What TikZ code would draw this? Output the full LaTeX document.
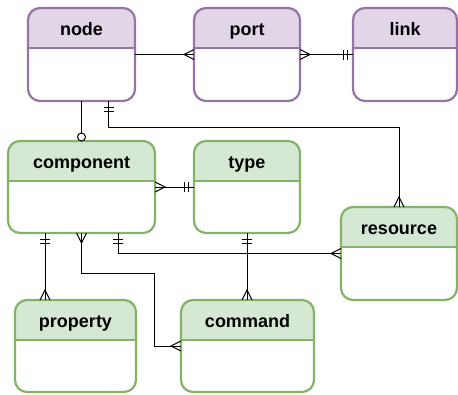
\documentclass[tikz,border=0pt]{standalone}
\usepackage{fontspec}
\setmainfont{Liberation Sans}
\usetikzlibrary{calc}

\definecolor{purpfill}{HTML}{E1D5E7}
\definecolor{purpline}{HTML}{9673A6}
\definecolor{greenfill}{HTML}{D5E8D4}
\definecolor{greenline}{HTML}{82B366}

\tikzset{
  rel/.style={line width=1pt, black},
  crow/.pic={\draw[rel] (0,-5) -- (10,0) -- (0,5);},
  bars/.pic={\draw[rel] (6,-5) -- (6,5) (10,-5) -- (10,5);},
  ring/.pic={\draw[rel, fill=white] (4,0) circle[radius=4pt];},
  title/.style={font=\bfseries\fontsize{18}{21}\selectfont, anchor=base, inner sep=0pt},
}

% entity box: name, label, x1, y1, x2, y2, header bottom, colour scheme
\newcommand\erentity[8]{%
  \begin{scope}
    \clip[rounded corners=12pt] (#3,#4) rectangle (#5,#6);
    \fill[#8fill] (#3,#4) rectangle (#5,#7);
  \end{scope}
  \draw[#8line, line width=2.2pt] (#3,#7) -- (#5,#7);
  \node[draw=#8line, line width=2.2pt, rounded corners=12pt, inner sep=0pt, outer sep=0pt,
        minimum width={(#5-#3)*1pt}, minimum height={(#6-#4)*1pt}]
        (#1) at ({(#3+#5)/2},{(#4+#6)/2}) {};
  \node[title] (#1-title) at ({(#3+#5)/2},{(#4+#7)/2+7}) {#2};
}

\begin{document}
\begin{tikzpicture}[x=1pt, y=-1pt]
  \fill[white] (0,0) rectangle (458,394);
  \useasboundingbox (0,0) rectangle (458,394);

  \erentity{nNode}{node}{28}{8}{135}{101}{48}{purp}
  \erentity{nPort}{port}{194}{8}{300}{101}{48}{purp}
  \erentity{nLink}{link}{353}{8}{457}{101}{48}{purp}
  \erentity{nComp}{component}{8}{141}{155}{233}{181}{green}
  \erentity{nType}{type}{194}{141}{300}{233}{181}{green}
  \erentity{nRes}{resource}{341}{207}{457}{300}{247}{green}
  \erentity{nProp}{property}{15}{300}{136}{392}{340}{green}
  \erentity{nCmd}{command}{181}{300}{314}{392}{340}{green}

  % node -- port
  \draw[rel] (nNode.east) -- (nPort.west);
  \pic[rotate=180] at (nPort.west) {crow};

  % port -- link
  \draw[rel] (nPort.east) -- (nLink.west);
  \pic at (nPort.east) {crow};
  \pic[rotate=180] at (nLink.west) {bars};

  % node -- component
  \draw[rel] (nNode.south) -- (nComp.north);
  \pic[rotate=90] at (nComp.north) {ring};

  % node -- resource
  \draw[rel] ([xshift=27pt]nNode.south) coordinate (nr1) -- ++(0,26) -| (nRes.north);
  \pic[rotate=-90] at (nr1) {bars};
  \pic[rotate=90] at (nRes.north) {crow};

  % component -- type
  \draw[rel] (nComp.east) -- (nType.west);
  \pic at (nComp.east) {crow};
  \pic[rotate=180] at (nType.west) {bars};

  % component -- property
  \draw[rel] ([xshift=37pt]nComp.south west) coordinate (cp1) -- (cp1 |- nProp.north) coordinate (cp2);
  \pic[rotate=-90] at (cp1) {bars};
  \pic[rotate=90] at (cp2) {crow};

  % component -- command
  \draw[rel] (nComp.south) -- ++(0,40) -| ([xshift=-27pt]nCmd.west) -- (nCmd.west);
  \pic[rotate=-90] at (nComp.south) {crow};
  \pic[rotate=180] at (nCmd.west) {crow};

  % component -- resource
  \draw[rel] ([xshift=110pt]nComp.south west) coordinate (cr1) |- (nRes.west);
  \pic[rotate=-90] at (cr1) {bars};
  \pic[rotate=180] at (nRes.west) {crow};

  % type -- command
  \draw[rel] (nType.south) -- (nType.south |- nCmd.north) coordinate (tc2);
  \pic[rotate=-90] at (nType.south) {bars};
  \pic[rotate=90] at (tc2) {crow};
\end{tikzpicture}
\end{document}
